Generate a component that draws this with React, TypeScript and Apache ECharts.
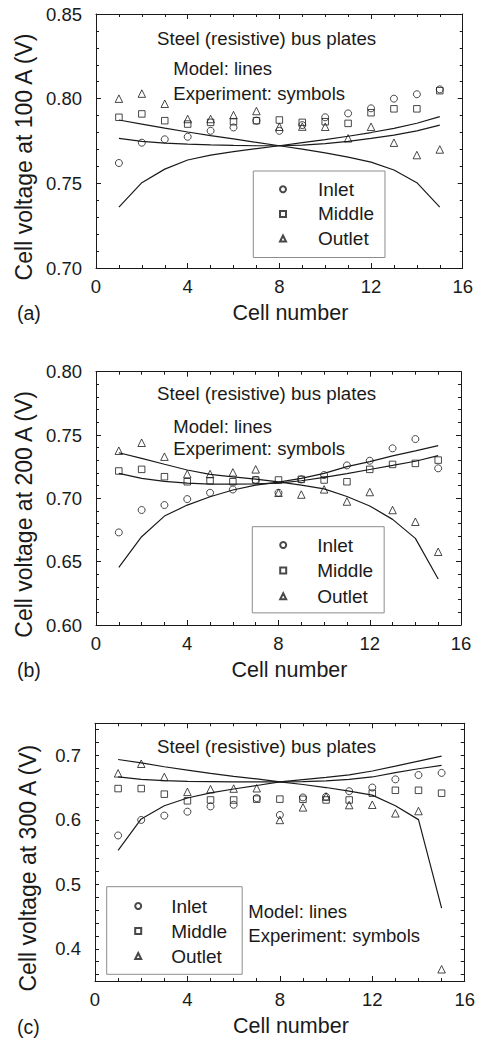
import React, { useEffect, useRef } from 'react';
import * as echarts from 'echarts';

// ---------- data ----------
const cells = [1, 2, 3, 4, 5, 6, 7, 8, 9, 10, 11, 12, 13, 14, 15];
const seriesNames = ['Inlet', 'Middle', 'Outlet'];
const panelLetters = ['(a)', '(b)', '(c)'];
const yAxisNames = ['Cell voltage at 100 A (V)', 'Cell voltage at 200 A (V)', 'Cell voltage at 300 A (V)'];
const xAxisName = 'Cell number';
const noteTitle = 'Steel (resistive) bus plates';
const noteModel = 'Model: lines';
const noteExp = 'Experiment: symbols';

// panel (a) 100 A
const inletExpA = [0.762, 0.774, 0.776, 0.7775, 0.781, 0.783, 0.787, 0.781, 0.7844, 0.789, 0.7913, 0.7943, 0.800, 0.8026, 0.8055];
const middleExpA = [0.789, 0.791, 0.787, 0.785, 0.786, 0.7864, 0.787, 0.7874, 0.786, 0.7864, 0.7854, 0.7917, 0.794, 0.794, 0.8047];
const outletExpA = [0.800, 0.803, 0.797, 0.788, 0.788, 0.7903, 0.7927, 0.7834, 0.7835, 0.7834, 0.7766, 0.7834, 0.774, 0.7667, 0.770];
const inletModelA = [0.736, 0.7504, 0.7584, 0.7638, 0.7667, 0.7687, 0.7705, 0.7722, 0.774, 0.7758, 0.7778, 0.78, 0.7825, 0.7855, 0.7894];
const middleModelA = [0.7766, 0.7748, 0.7738, 0.7731, 0.7727, 0.7724, 0.7722, 0.7722, 0.7726, 0.7734, 0.7748, 0.7765, 0.7785, 0.781, 0.7844];
const outletModelA = [0.7874, 0.785, 0.7826, 0.7803, 0.7782, 0.7762, 0.7742, 0.7722, 0.7702, 0.768, 0.7655, 0.7625, 0.7579, 0.7504, 0.736];

// panel (b) 200 A
const inletExpB = [0.6731, 0.6908, 0.6947, 0.6994, 0.7044, 0.707, 0.7145, 0.7044, 0.715, 0.7184, 0.726, 0.7297, 0.7395, 0.7468, 0.7237];
const middleExpB = [0.7216, 0.7229, 0.7171, 0.7131, 0.7139, 0.7131, 0.7145, 0.7145, 0.715, 0.7145, 0.7131, 0.7229, 0.7268, 0.7276, 0.7302];
const outletExpB = [0.7376, 0.7439, 0.7329, 0.7192, 0.7192, 0.7205, 0.7229, 0.7044, 0.703, 0.7071, 0.6975, 0.705, 0.6908, 0.6815, 0.6578];
const inletModelB = [0.6455, 0.6697, 0.686, 0.6947, 0.7013, 0.7066, 0.7105, 0.7128, 0.7158, 0.7197, 0.725, 0.729, 0.7335, 0.7375, 0.7416];
const middleModelB = [0.7197, 0.7158, 0.7134, 0.712, 0.7113, 0.7113, 0.7115, 0.712, 0.7139, 0.7166, 0.7195, 0.7228, 0.726, 0.7293, 0.7337];
const outletModelB = [0.736, 0.7316, 0.7269, 0.7224, 0.719, 0.717, 0.7152, 0.713, 0.7105, 0.7075, 0.7015, 0.694, 0.6834, 0.6684, 0.6363];

// panel (c) 300 A
const inletExpC = [0.5759, 0.6, 0.6067, 0.6128, 0.621, 0.6236, 0.6338, 0.6077, 0.6349, 0.636, 0.6446, 0.6503, 0.663, 0.6697, 0.673];
const middleExpC = [0.6487, 0.6487, 0.64, 0.6297, 0.631, 0.631, 0.6323, 0.6323, 0.632, 0.631, 0.631, 0.6415, 0.646, 0.646, 0.6415];
const outletExpC = [0.6723, 0.6872, 0.6667, 0.6436, 0.6477, 0.6487, 0.6492, 0.6, 0.6195, 0.6364, 0.6231, 0.6236, 0.6103, 0.6138, 0.3682];
const inletModelC = [0.5528, 0.6015, 0.622, 0.634, 0.642, 0.648, 0.6535, 0.659, 0.6625, 0.666, 0.67, 0.676, 0.6836, 0.6913, 0.699];
const middleModelC = [0.6667, 0.663, 0.661, 0.66, 0.6595, 0.659, 0.659, 0.659, 0.6595, 0.6605, 0.663, 0.6667, 0.6733, 0.6795, 0.6846];
const outletModelC = [0.6938, 0.6887, 0.6826, 0.6774, 0.6723, 0.6677, 0.6636, 0.659, 0.655, 0.6503, 0.6446, 0.6385, 0.622, 0.6005, 0.463];

// axis ticks
const xMin = 0, xMax = 16, xInterval = 4;
const yRanges = [[0.70, 0.85], [0.60, 0.80], [0.35, 0.75]];
const yIntervalAB = 0.05;
const yTicksC = [0.36, 0.38, 0.40, 0.42, 0.44, 0.46, 0.48, 0.50, 0.52, 0.54, 0.56, 0.58, 0.60, 0.62, 0.64, 0.66, 0.68, 0.70, 0.72, 0.74];
const yLabelsC = [0.4, 0.5, 0.6, 0.7];

// ---------- style / layout ----------
const FONT = '"Liberation Sans", Arial, Helvetica, sans-serif';
const INK = '#1a1a1a';

const grids = [
  { left: 96, top: 14, width: 366.7, height: 254 },
  { left: 96, top: 371.7, width: 365, height: 253.3 },
  { left: 95, top: 723.3, width: 372.7, height: 260.7 },
];

const legendLayouts = [
  { left: 253.3, top: 171, padding: [8.3, 11, 9, 25.7], itemGap: 4.6, textPad: 27 },
  { left: 252.3, top: 526.7, padding: [8.3, 11, 6.7, 26.9], itemGap: 5.6, textPad: 26 },
  { left: 106.7, top: 886.7, padding: [9.3, 15, 8.3, 27.5], itemGap: 5, textPad: 25 },
];

const noteLayouts = [
  { title: [157, 38], model: [173.3, 68.5], exp: [173.3, 93.3] },
  { title: [157, 393.3], model: [173.3, 426.7], exp: [173.3, 448.5] },
  { title: [157, 746.7], model: [248.3, 911.7], exp: [248.3, 935] },
];
const letterY = [313, 670, 1026.7];

const symbols = ['circle', 'rect', 'triangle'];
const symbolSizes = [7, 6.5, 7.5];

function pts(vals: number[]) {
  return vals.map((v, i) => [cells[i], v]);
}

function buildOption() {
  const exp = [
    [inletExpA, middleExpA, outletExpA],
    [inletExpB, middleExpB, outletExpB],
    [inletExpC, middleExpC, outletExpC],
  ];
  const models = [
    [inletModelA, middleModelA, outletModelA],
    [inletModelB, middleModelB, outletModelB],
    [inletModelC, middleModelC, outletModelC],
  ];

  const xAxes: any[] = [];
  const yAxes: any[] = [];
  const series: any[] = [];
  const legends: any[] = [];
  const graphics: any[] = [];

  const lineStyle = { color: INK, width: 1 };

  for (let g = 0; g < 3; g++) {
    const common = {
      type: 'value',
      gridIndex: g,
      axisLine: { show: true, onZero: false, lineStyle },
      splitLine: { show: false },
      minorSplitLine: { show: false },
    };
    xAxes.push({
      ...common,
      min: xMin, max: xMax, interval: xInterval,
      position: 'bottom',
      axisTick: { show: true, inside: true, length: 5, lineStyle },
      minorTick: { show: true, splitNumber: 4, length: 3, lineStyle },
      axisLabel: { show: true, margin: 9, color: INK, fontSize: 18.5, fontFamily: FONT, formatter: (v: number) => String(v) },
      name: xAxisName, nameLocation: 'middle', nameGap: 34,
      nameTextStyle: { fontSize: 21.5, fontFamily: FONT, color: INK, padding: [0, 0, 0, 22] },
    });
    const [ymin, ymax] = yRanges[g];
    const yBase: any = { ...common, min: ymin, max: ymax };
    if (g < 2) {
      yBase.interval = yIntervalAB;
      yBase.axisTick = { show: true, inside: true, length: 5, lineStyle };
      yBase.minorTick = { show: true, splitNumber: 5, length: 3, lineStyle };
    } else {
      yBase.axisTick = { show: true, inside: true, length: 4, lineStyle, customValues: yTicksC };
      yBase.minorTick = { show: false };
    }
    const labelFmt = (v: number) => (g < 2 ? v.toFixed(2) : v.toFixed(1));
    yAxes.push({
      ...yBase,
      position: 'left',
      axisLabel: {
        show: true, margin: 14, color: INK, fontSize: 18.5, fontFamily: FONT, formatter: labelFmt,
        ...(g === 2 ? { customValues: yLabelsC } : {}),
      },
      name: yAxisNames[g], nameLocation: 'middle', nameRotate: 90, nameGap: 56,
      nameTextStyle: { fontSize: 23, fontFamily: FONT, color: INK, padding: [0, 32, 0, 0] },
    });
  }
  // mirrored (top / right) axes, ticks only
  for (let g = 0; g < 3; g++) {
    xAxes.push({
      ...xAxes[g],
      position: 'top',
      axisLabel: { show: false },
      name: '',
    });
    yAxes.push({
      ...yAxes[g],
      position: 'right',
      axisLabel: { show: false },
      name: '',
    });
  }

  for (let g = 0; g < 3; g++) {
    for (let s = 0; s < 3; s++) {
      series.push({
        type: 'line',
        name: seriesNames[s] + ' model',
        xAxisIndex: g, yAxisIndex: g,
        data: pts(models[g][s]),
        symbol: 'none', showSymbol: false, smooth: false,
        lineStyle: { color: INK, width: 1.2 },
        silent: true, z: 2,
      });
    }
    for (let s = 0; s < 3; s++) {
      series.push({
        type: 'scatter',
        name: seriesNames[s],
        xAxisIndex: g, yAxisIndex: g,
        data: pts(exp[g][s]),
        symbol: symbols[s], symbolSize: symbolSizes[s],
        itemStyle: { color: 'rgba(255,255,255,0)', borderColor: INK, borderWidth: 1 },
        silent: true, z: 3,
      });
    }
    const L = legendLayouts[g];
    legends.push({
      show: true,
      data: seriesNames,
      orient: 'vertical',
      left: L.left, top: L.top,
      padding: L.padding,
      itemWidth: 6, itemHeight: 6,
      itemGap: L.itemGap,
      selectedMode: false,
      borderColor: '#8c8c8c', borderWidth: 1,
      backgroundColor: '#fff',
      textStyle: { fontSize: 19, fontFamily: FONT, color: INK, lineHeight: 20, padding: [0, 0, 0, L.textPad] },
    });
    const N = noteLayouts[g];
    const textStyle = (t: string, fs: number) => ({ text: t, fontSize: fs, fontFamily: FONT, fill: INK, verticalAlign: 'middle', align: 'left' });
    graphics.push({ type: 'text', x: N.title[0], y: N.title[1], style: textStyle(noteTitle, 18.7), z: 10 });
    graphics.push({ type: 'text', x: N.model[0], y: N.model[1], style: textStyle(noteModel, 18.5), z: 10 });
    graphics.push({ type: 'text', x: N.exp[0], y: N.exp[1], style: textStyle(noteExp, 18.5), z: 10 });
    graphics.push({ type: 'text', x: 17, y: letterY[g], style: textStyle(panelLetters[g], 19.5), z: 10 });
  }

  return {
    animation: false,
    backgroundColor: '#fff',
    grid: grids.map((gr) => ({ ...gr, containLabel: false })),
    xAxis: xAxes,
    yAxis: yAxes,
    legend: legends,
    series,
    graphic: graphics,
  };
}

export default function App() {
  const ref = useRef<HTMLDivElement>(null);
  useEffect(() => {
    const chart = echarts.init(ref.current!, null, { renderer: 'svg' });
    chart.setOption(buildOption());
    return () => chart.dispose();
  }, []);
  return (
    <div
      ref={ref}
      style={{ position: 'fixed', left: 0, top: 0, width: 478, height: 1038, background: '#fff' }}
    />
  );
}
